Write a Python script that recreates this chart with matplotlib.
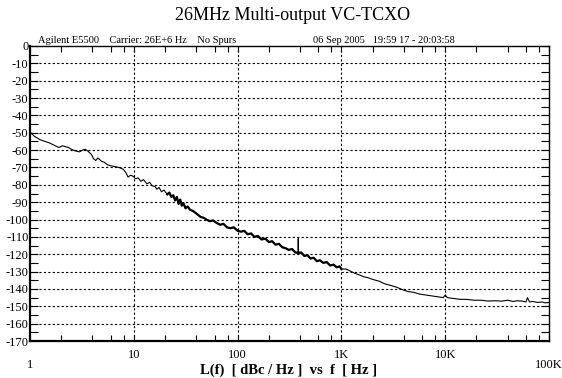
import matplotlib
matplotlib.use("Agg")
import matplotlib.pyplot as plt
from matplotlib.ticker import FixedLocator, LogLocator, NullFormatter

# Phase noise data
freq = [1, 1.1, 1.25, 1.4, 1.56, 1.75, 1.9, 2.05, 2.2, 2.35, 2.5, 2.75, 3.0, 3.2, 3.4, 3.6,
        3.9, 4.1, 4.3, 4.5, 4.7, 4.9, 5.2, 5.6, 6.0, 6.6, 7.2, 7.9, 8.4, 8.8, 9.3, 9.8,
        10.4, 11, 11.7, 12.4, 13.4, 14.2, 15, 16, 16.7, 17.5, 18.5, 19.5, 21, 22, 23, 24,
        25, 26, 27, 28, 29, 30, 31.5, 33, 35, 37, 39, 41, 44, 47, 50, 54, 58, 63, 68, 73,
        79, 85, 92, 100, 108, 116, 125, 135, 145, 157, 170, 185, 200, 215, 232, 250, 270,
        290, 310, 335, 360, 384, 384, 384, 410, 440, 470, 505, 540, 580, 620, 670, 720,
        780, 840, 900, 960, 1000, 1100, 1200, 1350, 1500, 1650, 1800, 2000, 2300, 2600,
        3000, 3400, 3900, 4400, 5000, 5700, 6500, 7400, 8500, 9600, 10000, 10500, 12000,
        14000, 16000, 19000, 22000, 26000, 30000, 35000, 40000, 45000, 50000, 55000,
        60000, 62000, 65000, 70000, 78000, 85000, 92000, 100000]
noise = [-49.5, -52, -54, -55, -56, -57.5, -58.5, -57.5, -58, -58.5, -59.5, -60.5, -61, -60,
         -59.5, -60.5, -62.5, -65, -66, -64.5, -65.5, -66.5, -67, -68.5, -69, -69.5, -70,
         -71, -73, -75.5, -74.5, -75, -76.5, -76, -78, -77, -79.5, -78.5, -80.5, -81,
         -82.5, -81.5, -84, -83, -85.5, -84.5, -87, -86, -89, -87, -91, -88.5, -92, -90.5,
         -93.5, -92.5, -94.5, -95, -96, -97, -98.5, -99, -100, -101, -100.5, -102, -103,
         -102.5, -104.5, -105, -104.5, -106.5, -107, -106.5, -108.5, -108, -110, -109.5,
         -111.5, -111, -113, -112.5, -114.5, -114, -116, -116.5, -117.5, -117, -119,
         -119.5, -111, -120, -119, -121, -120.5, -122.5, -122, -124, -123.5, -125, -124.5,
         -126.5, -126, -127.5, -127, -128.5, -128.5, -129.5, -131, -132, -133, -133.5,
         -134.5, -135.5, -137, -138, -139, -140.5, -141.5, -142, -143, -143.5, -144,
         -144.5, -145, -143.5, -145, -145.5, -146, -146, -146.5, -146.5, -147, -146.8,
         -147, -146.5, -147.2, -146.8, -147, -147.5, -145, -147.5, -147.2, -147.8, -147.5,
         -148, -147.8]

xticks = [1, 10, 100, 1000, 10000, 100000]
xlabels = ["1", "10", "100", "1K", "10K", "100K"]
yticks = list(range(0, -171, -10))

plt.rcParams["font.family"] = ["Liberation Serif", "DejaVu Serif"]

fig = plt.figure(figsize=(5.62, 3.78), dpi=100)
ax = fig.add_axes([30 / 562, 1 - 341 / 378, 519 / 562, 295 / 378])

ax.semilogx(freq, noise, color="black", lw=0.8)
# the dense part of the trace looks heavier
mid = [i for i, f in enumerate(freq) if 20 <= f <= 1000 and f != 384]
ax.semilogx([freq[i] for i in mid], [noise[i] for i in mid], color="black", lw=1.6)
ax.set_xlim(1, 100000)
ax.set_ylim(-170, 0)

# grid
for y in yticks[1:-1]:
    ax.axhline(y, color="black", lw=0.8, ls=(0, (2, 2)))
for x in xticks[1:-1]:
    ax.axvline(x, color="black", lw=0.8, ls=(0, (2, 2)))

# ticks
ax.yaxis.set_major_locator(FixedLocator(yticks))
ax.yaxis.set_minor_locator(FixedLocator(list(range(-5, -170, -10))))
ax.set_yticklabels([str(v) for v in yticks], fontsize=9)
ax.tick_params(axis="y", which="both", direction="in", left=True, right=True,
               length=6, width=0.8, pad=1)
ax.xaxis.set_major_locator(FixedLocator(xticks))
ax.xaxis.set_minor_locator(LogLocator(base=10, subs=[2, 4, 6, 8]))
ax.xaxis.set_minor_formatter(NullFormatter())
ax.set_xticklabels([])
ax.tick_params(axis="x", which="both", direction="in", top=True, bottom=True,
               length=4, width=0.8)

for side in ["left", "bottom"]:
    ax.spines[side].set_linewidth(1.6)
for side in ["top", "right"]:
    ax.spines[side].set_linewidth(1.0)

# x labels, staggered as in the original
xt = ax.get_xaxis_transform()
for x, lab in zip(xticks, xlabels):
    dy = -0.08 if lab in ("1", "100K") else -0.047
    ax.text(x, dy, lab, transform=xt, ha="center", va="center", fontsize=9)

fig.text(0.513, 0.021, "L(f)  [ dBc / Hz ]  vs  f  [ Hz ]", ha="center", va="center",
         fontsize=10.5, fontweight="bold")
fig.text(0.52, 0.96, "26MHz Multi-output VC-TCXO", ha="center", va="center", fontsize=13)
ax.text(0.015, 1.005, "Agilent E5500    Carrier: 26E+6 Hz    No Spurs", transform=ax.transAxes,
        fontsize=7.5, va="bottom")
ax.text(0.545, 1.005, "06 Sep 2005   19:59 17 - 20:03:58", transform=ax.transAxes,
        fontsize=7.5, va="bottom")

fig.savefig("out.png", dpi=100)
